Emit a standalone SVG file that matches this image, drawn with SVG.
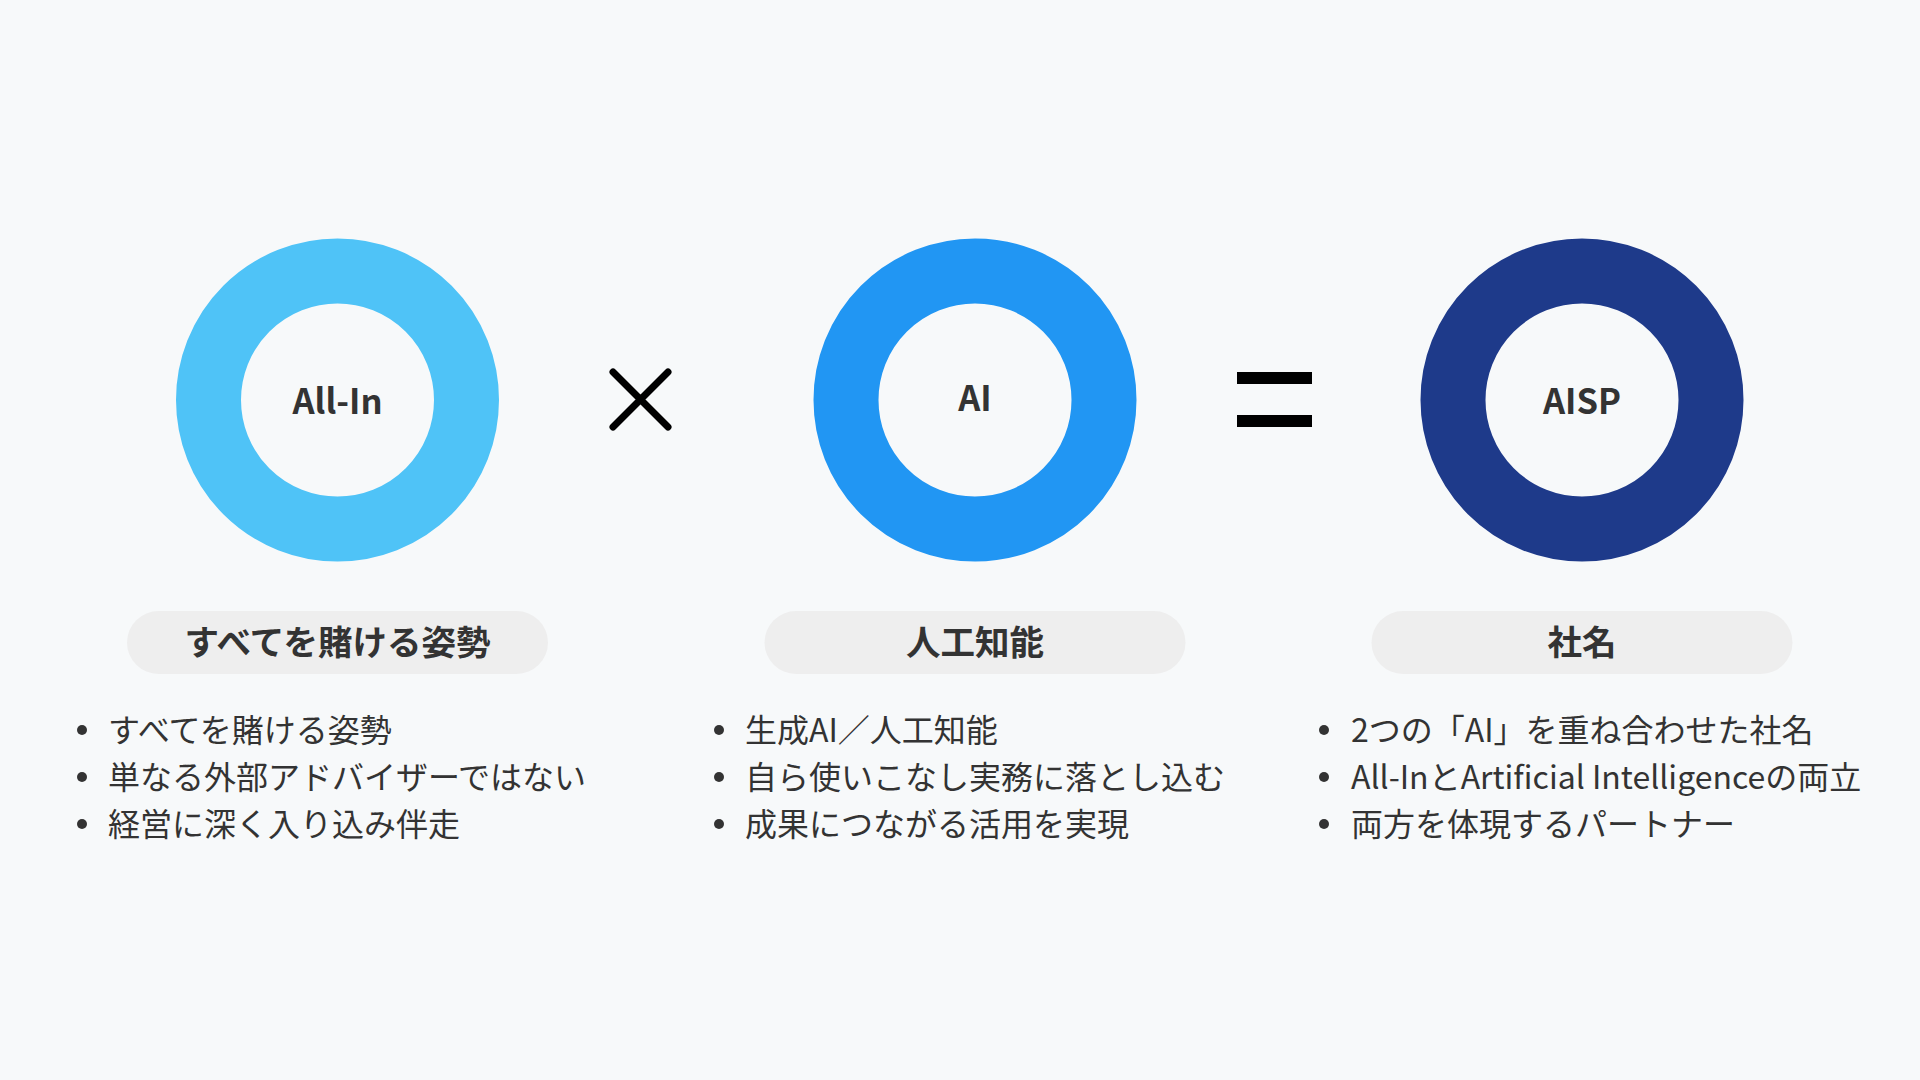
<svg xmlns="http://www.w3.org/2000/svg" width="1920" height="1080" viewBox="0 0 1920 1080">
<style>
.ring{fill:none;stroke-width:65}
.lbl{font-family:"Noto Sans CJK JP","Noto Sans",sans-serif;font-weight:700;font-size:34.5px;fill:#333333;text-anchor:middle}
.pill{fill:#eeeeee}
.ptxt{font-family:"Noto Sans CJK JP","Noto Sans",sans-serif;font-weight:700;font-size:34.5px;fill:#333333;text-anchor:middle}
.btxt{font-family:"Noto Sans CJK JP","Noto Sans",sans-serif;font-weight:400;font-size:32px;fill:#333333}
.dot{fill:#333333}
.op{stroke:#000000;fill:none}
</style>
<rect width="1920" height="1080" fill="#f7f9fa"/>
<g id="node-allin">
<circle class="ring" cx="337.5" cy="400" r="129" stroke="#4fc3f7"/>
<text class="lbl" x="337.5" y="414">All-In</text>
</g>
<g id="node-ai">
<circle class="ring" cx="975" cy="400" r="129" stroke="#2196f3"/>
<text class="lbl" x="975" y="411">AI</text>
</g>
<g id="node-aisp">
<circle class="ring" cx="1582" cy="400" r="129" stroke="#1e3a8a"/>
<text class="lbl" x="1582" y="414">AISP</text>
</g>
<g id="operators">
<path class="op" d="M613,372 L668,427 M668,372 L613,427" stroke-width="7" stroke-linecap="round"/>
<rect x="1237" y="372" width="75" height="12" fill="#000000"/>
<rect x="1237" y="415" width="75" height="12" fill="#000000"/>
</g>
<g id="pill-1">
<rect class="pill" x="127" y="611" width="421" height="63" rx="31.5"/>
<text class="ptxt" x="337.5" y="655">すべてを賭ける姿勢</text>
</g>
<g id="pill-2">
<rect class="pill" x="764.5" y="611" width="421" height="63" rx="31.5"/>
<text class="ptxt" x="975" y="655">人工知能</text>
</g>
<g id="pill-3">
<rect class="pill" x="1371.5" y="611" width="421" height="63" rx="31.5"/>
<text class="ptxt" x="1582" y="655">社名</text>
</g>
<g id="list-1">
<circle class="dot" cx="82" cy="730" r="5"/>
<circle class="dot" cx="82" cy="777" r="5"/>
<circle class="dot" cx="82" cy="824" r="5"/>
<text class="btxt" x="108" y="741.5">すべてを賭ける姿勢</text>
<text class="btxt" x="108" y="788.5">単なる外部アドバイザーではない</text>
<text class="btxt" x="108" y="836">経営に深く入り込み伴走</text>
</g>
<g id="list-2">
<circle class="dot" cx="719" cy="730" r="5"/>
<circle class="dot" cx="719" cy="777" r="5"/>
<circle class="dot" cx="719" cy="824" r="5"/>
<text class="btxt" x="745" y="741.5">生成AI／人工知能</text>
<text class="btxt" x="745" y="788.5">自ら使いこなし実務に落とし込む</text>
<text class="btxt" x="745" y="836">成果につながる活用を実現</text>
</g>
<g id="list-3">
<circle class="dot" cx="1324" cy="730" r="5"/>
<circle class="dot" cx="1324" cy="777" r="5"/>
<circle class="dot" cx="1324" cy="824" r="5"/>
<text class="btxt" x="1351" y="741.5">2つの「AI」を重ね合わせた社名</text>
<text class="btxt" x="1351" y="788.5">All-InとArtificial Intelligenceの両立</text>
<text class="btxt" x="1351" y="836">両方を体現するパートナー</text>
</g>
</svg>
